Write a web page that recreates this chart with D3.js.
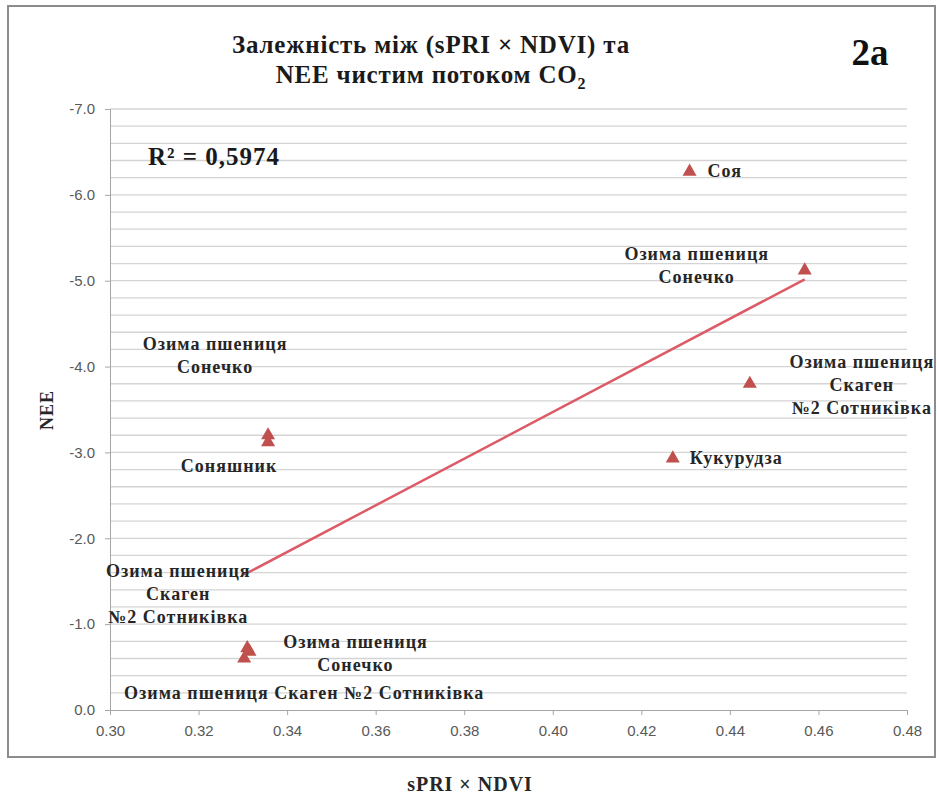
<!DOCTYPE html>
<html><head><meta charset="utf-8">
<script src="https://cdn.jsdelivr.net/npm/d3@7"></script>
<style>body{margin:0;background:#fff;} svg{display:block;}</style>
</head><body>
<svg id="c" width="937" height="801"></svg>
<script>
// ---- data ----
const categories = ["Соя","Озима пшениця Сонечко","Озима пшениця Скаген №2 Сотниківка","Кукурудза",
  "Озима пшениця Сонечко","Соняшник","Озима пшениця Скаген №2 Сотниківка","Озима пшениця Сонечко","Озима пшениця Скаген №2 Сотниківка"];
const xValues = [0.4309, 0.4569, 0.4445, 0.4271, 0.3357, 0.3357, 0.3310, 0.3315, 0.3303];
const yValues = [-6.27, -5.12, -3.80, -2.93, -3.20, -3.12, -0.72, -0.68, -0.60];
const xTicks = [0.30,0.32,0.34,0.36,0.38,0.40,0.42,0.44,0.46,0.48];
const yTicks = [0,-1,-2,-3,-4,-5,-6,-7];
const r2Label = "R² = 0,5974";

// label layout (lines, anchor, offsets from point)
const labelLayout = [
  {lines:["Соя"], anchor:"start", dx:18, dy:1},
  {lines:["Озима пшениця","Сонечко"], anchor:"middle", dx:-108, dy:-15},
  {lines:["Озима пшениця","Скаген","№2  Сотниківка"], anchor:"middle", dx:112, dy:-20},
  {lines:["Кукурудза"], anchor:"start", dx:17, dy:1},
  {lines:["Озима пшениця","Сонечко"], anchor:"middle", dx:-53, dy:-89},
  {lines:["Соняшник"], anchor:"middle", dx:-39, dy:26},
  {lines:["Озима пшениця","Скаген","№2  Сотниківка"], anchor:"middle", dx:-69, dy:-75},
  {lines:["Озима пшениця","Сонечко"], anchor:"middle", dx:106, dy:-8},
  {lines:["Озима пшениця Скаген №2  Сотниківка"], anchor:"middle", dx:60, dy:36}
];

const svg = d3.select("#c");
const serif = "'Liberation Serif','Times New Roman',serif";
const sans = "'Liberation Sans',Arial,sans-serif";

// frame
svg.append("rect").attr("x",8).attr("y",6).attr("width",927).attr("height",751)
  .attr("fill","#fff").attr("stroke","#8c8c8c").attr("stroke-width",2);

const x = d3.scaleLinear().domain([0.30,0.48]).range([110,907]);
const y = d3.scaleLinear().domain([0,-7]).range([710,109]);

// gridlines (major + minor every 0.2)
const gridVals = d3.range(0,71).map(i=>-i/10).filter((v,i)=>i%2===0 && v!==0);
svg.append("g").selectAll("line").data(gridVals).join("line")
  .attr("x1",x(0.30)).attr("x2",x(0.48))
  .attr("y1",d=>y(d)).attr("y2",d=>y(d))
  .attr("stroke","#d4d4d4").attr("stroke-width",1.3);

// y axis
const yAxis = svg.append("g").attr("transform",`translate(${x(0.30)},0)`)
  .call(d3.axisLeft(y).tickValues(yTicks).tickFormat(d=>d.toFixed(1)).tickSize(5).tickPadding(10));
yAxis.select(".domain").attr("stroke","#a6a6a6");
yAxis.selectAll(".tick line").attr("stroke","#a6a6a6");
yAxis.selectAll("text").attr("font-family",sans).attr("font-size",15).attr("fill","#595959");

// x axis
const xAxis = svg.append("g").attr("transform",`translate(0,${y(0)})`)
  .call(d3.axisBottom(x).tickValues(xTicks).tickFormat(d=>d.toFixed(2)).tickSize(5).tickPadding(10));
xAxis.select(".domain").attr("stroke","#a6a6a6");
xAxis.selectAll(".tick line").attr("stroke","#a6a6a6");
xAxis.selectAll("text").attr("font-family",sans).attr("font-size",15).attr("fill","#595959");

// regression line (least squares)
const n = xValues.length;
const mx = d3.mean(xValues), my = d3.mean(yValues);
let sxy=0, sxx=0;
for(let i=0;i<n;i++){ sxy+=(xValues[i]-mx)*(yValues[i]-my); sxx+=(xValues[i]-mx)**2; }
const slope = sxy/sxx, icpt = my - slope*mx;
const x0 = d3.min(xValues), x1 = d3.max(xValues);
svg.append("line")
  .attr("x1",x(x0)).attr("y1",y(icpt+slope*x0))
  .attr("x2",x(x1)).attr("y2",y(icpt+slope*x1))
  .attr("stroke","#dc5b66").attr("stroke-width",2.5);

// points
const pts = xValues.map((v,i)=>({x:v,y:yValues[i],name:categories[i],lab:labelLayout[i]}));
svg.append("g").selectAll("path").data(pts).join("path")
  .attr("d",d3.symbol().type(d3.symbolTriangle).size(85))
  .attr("transform",d=>`translate(${x(d.x)},${y(d.y)})`)
  .attr("fill","#c0504d");

// labels
const lg = svg.append("g").attr("font-family",serif).attr("font-weight","bold")
  .attr("font-size",18).attr("letter-spacing",1).attr("fill","#262626");
pts.forEach(d=>{
  const L=d.lab, px=x(d.x)+L.dx, py=y(d.y)+L.dy;
  L.lines.forEach((t,k)=>{
    lg.append("text").attr("x",px).attr("y",py+k*23).attr("text-anchor",L.anchor)
      .attr("dominant-baseline","middle").text(t);
  });
});

// R^2
svg.append("text").attr("x",148).attr("y",165).attr("font-family",serif).attr("font-weight","bold")
  .attr("font-size",25).attr("letter-spacing",1).attr("fill","#1a1a1a").text(r2Label);

// title
const tt = svg.append("g").attr("font-family",serif).attr("font-weight","bold").attr("font-size",25)
  .attr("letter-spacing",0.8).attr("fill","#1a1a1a").attr("text-anchor","middle");
tt.append("text").attr("x",431).attr("y",53).text("Залежність між (sPRI × NDVI) та");
const t2 = tt.append("text").attr("x",431).attr("y",83);
t2.append("tspan").text("NEE чистим потоком CO");
t2.append("tspan").attr("font-size",16).attr("dy",6).text("2");

// panel tag
svg.append("text").attr("x",870).attr("y",65).attr("text-anchor","middle").attr("font-family",serif)
  .attr("font-weight","bold").attr("font-size",37).attr("fill","#111").text("2а");

// axis titles
svg.append("text").attr("transform","translate(53,410) rotate(-90)").attr("text-anchor","middle")
  .attr("font-family",serif).attr("font-weight","bold").attr("font-size",18).attr("letter-spacing",1)
  .attr("fill","#262626").text("NEE");
svg.append("text").attr("x",470).attr("y",791).attr("text-anchor","middle")
  .attr("font-family",serif).attr("font-weight","bold").attr("font-size",20).attr("letter-spacing",1)
  .attr("fill","#262626").text("sPRI × NDVI");
</script>
</body></html>
